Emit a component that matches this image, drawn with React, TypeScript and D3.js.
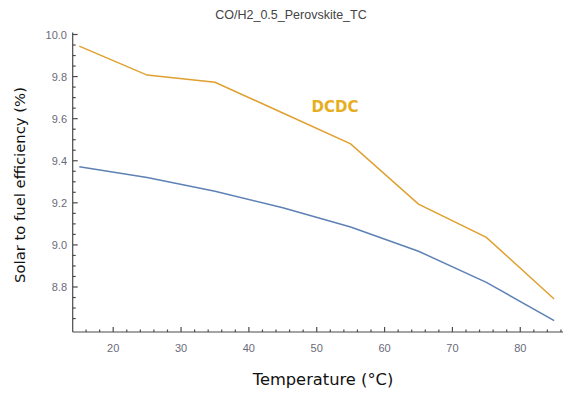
import React from "react";
import * as d3 from "d3";

const temperatures = [15, 25, 35, 45, 55, 65, 75, 85];
const dcdcValues = [9.945, 9.807, 9.773, 9.627, 9.48, 9.194, 9.036, 8.743];
const baseValues = [9.372, 9.32, 9.255, 9.177, 9.085, 8.97, 8.822, 8.64];
const xMajorTicks = [20, 30, 40, 50, 60, 70, 80];
const yMajorTicks = [8.8, 9.0, 9.2, 9.4, 9.6, 9.8, 10.0];
const title = "CO/H2_0.5_Perovskite_TC";
const xTitle = "Temperature (°C)";
const yTitle = "Solar to fuel efficiency (%)";
const seriesLabel = "DCDC";

const W = 564;
const H = 398;

export default function App() {
  const x = d3.scaleLinear().domain([14.03, 86.3]).range([72.7, 563]);
  const y = d3.scaleLinear().domain([8.8, 10.0]).range([287, 34.5]);
  const yBottom = 332;
  const yTop = 32.5;
  const axisColor = "#4a4a4a";
  const tickLabelColor = "#6a6a78";

  const xMinor = d3.range(16, 87, 2).filter((v) => v % 10 !== 0);
  const yMinor = d3
    .range(8.6, 10.001, 0.05)
    .map((v) => Math.round(v * 100) / 100)
    .filter((v) => Math.abs(Math.round(v * 5) - v * 5) > 1e-6);

  const line = d3
    .line<number>()
    .x((_, i) => x(temperatures[i]))
    .y((d) => y(d));

  return (
    <svg width={W} height={H} style={{ position: "absolute", left: 0, top: 0 }}>
      <rect width={W} height={H} fill="#fff" />
      <text
        x={291}
        y={19}
        textAnchor="middle"
        fontFamily="Liberation Sans, Arial, sans-serif"
        fontSize={12.5}
        fill="#444"
      >
        {title}
      </text>

      {/* axes */}
      <line x1={72.7} x2={563} y1={yBottom} y2={yBottom} stroke={axisColor} strokeWidth={1.2} />
      <line x1={72.7} x2={72.7} y1={yTop} y2={yBottom} stroke={axisColor} strokeWidth={1.2} />

      {xMajorTicks.map((t) => (
        <g key={"xm" + t}>
          <line x1={x(t)} x2={x(t)} y1={yBottom} y2={yBottom - 5} stroke={axisColor} strokeWidth={1.2} />
          <text
            x={x(t)}
            y={yBottom + 20}
            textAnchor="middle"
            fontFamily="Liberation Sans, Arial, sans-serif"
            fontSize={11}
            fill={tickLabelColor}
          >
            {t}
          </text>
        </g>
      ))}
      {xMinor.map((t) => (
        <line key={"xn" + t} x1={x(t)} x2={x(t)} y1={yBottom} y2={yBottom - 2.5} stroke={axisColor} strokeWidth={1.2} />
      ))}
      {yMajorTicks.map((t) => (
        <g key={"ym" + t}>
          <line x1={72.7} x2={77.7} y1={y(t)} y2={y(t)} stroke={axisColor} strokeWidth={1.2} />
          <text
            x={67}
            y={y(t) + 4}
            textAnchor="end"
            fontFamily="Liberation Sans, Arial, sans-serif"
            fontSize={11}
            fill={tickLabelColor}
          >
            {t.toFixed(1)}
          </text>
        </g>
      ))}
      {yMinor.map((t) => (
        <line key={"yn" + t} x1={72.7} x2={75.7} y1={y(t)} y2={y(t)} stroke={axisColor} strokeWidth={1.2} />
      ))}

      <path d={line(baseValues) || ""} fill="none" stroke="#5e81b5" strokeWidth={1.5} />
      <path d={line(dcdcValues) || ""} fill="none" stroke="#e0a030" strokeWidth={1.5} />

      <text
        x={335}
        y={112}
        textAnchor="middle"
        fontFamily="DejaVu Sans, Verdana, sans-serif"
        fontWeight="bold"
        fontSize={15}
        fill="#e6ae1e"
      >
        {seriesLabel}
      </text>

      <text
        x={323}
        y={385}
        textAnchor="middle"
        fontFamily="DejaVu Sans, Verdana, sans-serif"
        fontSize={16.3}
        fill="#111"
      >
        {xTitle}
      </text>
      <text
        transform={`translate(25,185) rotate(-90)`}
        textAnchor="middle"
        fontFamily="DejaVu Sans, Verdana, sans-serif"
        fontSize={14.8}
        fill="#111"
      >
        {yTitle}
      </text>
    </svg>
  );
}
